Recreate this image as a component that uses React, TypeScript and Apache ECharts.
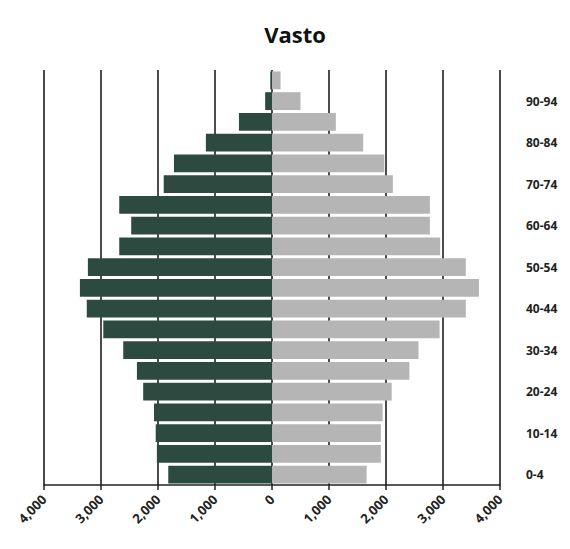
import React, { useEffect, useRef } from "react";
import * as echarts from "echarts";

const ageGroups = [
  "0-4", "5-9", "10-14", "15-19", "20-24", "25-29", "30-34", "35-39", "40-44", "45-49",
  "50-54", "55-59", "60-64", "65-69", "70-74", "75-79", "80-84", "85-89", "90-94", "95-99",
];
const males = [1820, 2020, 2040, 2070, 2260, 2370, 2610, 2960, 3250, 3370, 3230, 2680, 2470, 2680, 1900, 1720, 1160, 580, 120, 30];
const females = [1660, 1910, 1910, 1940, 2100, 2410, 2570, 2940, 3400, 3630, 3400, 2950, 2770, 2770, 2120, 1970, 1600, 1120, 500, 150];

const fmt = (v: number) => Math.abs(v).toLocaleString("en-US");

export default function App() {
  const ref = useRef<HTMLDivElement>(null);
  useEffect(() => {
    if (!ref.current) return;
    const chart = echarts.init(ref.current, null, { renderer: "svg" });
    chart.setOption({
      animation: false,
      backgroundColor: "#ffffff",
      title: {
        text: "Vasto",
        left: 290,
        top: 18,
        textAlign: "center",
        textStyle: { fontFamily: "Open Sans", fontWeight: "bold", fontSize: 22, color: "#111" },
      },
      grid: { left: 44, right: 70, top: 70, bottom: 64, containLabel: false },
      xAxis: {
        type: "value",
        min: -4000,
        max: 4000,
        interval: 1000,
        axisLine: { show: true, lineStyle: { color: "#222", width: 1.5 } },
        axisTick: { show: true, length: 5, lineStyle: { color: "#222", width: 1.5 } },
        splitLine: { show: true, lineStyle: { color: "#111", width: 1.5 } },
        axisLabel: {
          formatter: (v: number) => fmt(v),
          rotate: 45,
          margin: 12,
          fontFamily: "Open Sans",
          fontWeight: "bold",
          fontSize: 13,
          color: "#222",
        },
      },
      yAxis: {
        type: "category",
        position: "right",
        data: ageGroups,
        axisLine: { show: false },
        axisTick: { show: false },
        axisLabel: {
          interval: 1,
          margin: 26,
          align: "left",
          fontFamily: "Open Sans",
          fontWeight: "bold",
          fontSize: 12,
          color: "#222",
        },
      },
      series: [
        {
          name: "Maschi",
          type: "bar",
          stack: "tot",
          barCategoryGap: "14%",
          data: males.map((v) => -v),
          itemStyle: { color: "#2d4a40" },
        },
        {
          name: "Femmine",
          type: "bar",
          stack: "tot",
          barCategoryGap: "14%",
          data: females,
          itemStyle: { color: "#b5b5b5" },
        },
      ],
    });
    return () => chart.dispose();
  }, []);
  return (
    <div
      ref={ref}
      style={{ position: "fixed", left: 0, top: 0, width: 570, height: 549, background: "#fff" }}
    />
  );
}
